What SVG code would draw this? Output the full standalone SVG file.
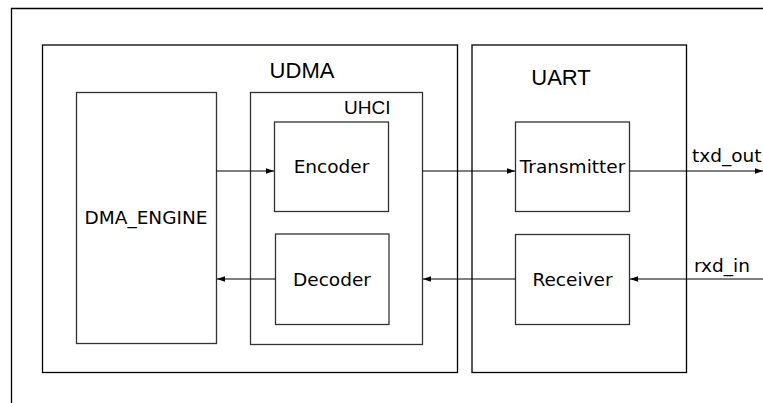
<svg xmlns="http://www.w3.org/2000/svg" width="763" height="403" viewBox="0 0 763 403">
<style>
.box{fill:none;stroke:#333;stroke-width:1.3}
.frame{fill:none;stroke:#000;stroke-width:1.3}
.lbl{font-family:"DejaVu Sans",sans-serif;font-size:18.5px;fill:#000}
.ttl{font-family:"Liberation Sans",Arial,sans-serif;font-size:22px;fill:#000}
.con{stroke:#000;stroke-width:1.1;fill:none}
</style>
<defs>
<marker id="ah" viewBox="0 0 10 10" refX="10" refY="5" markerWidth="8" markerHeight="8" markerUnits="userSpaceOnUse" orient="auto">
<path d="M0,1.5 L10,5 L0,8.5 Z" fill="#000"/>
</marker>
</defs>
<rect width="763" height="403" fill="#fff"/>
<g id="frame"><path class="frame" d="M11.5,403 V8.5 H763"/></g>
<g id="udma">
<rect class="frame" x="42.5" y="45" width="415" height="327.5"/>
<text class="ttl" x="302" y="78" text-anchor="middle">UDMA</text>
</g>
<g id="uart">
<rect class="frame" x="472" y="45" width="214.5" height="327.5"/>
<text class="ttl" x="561" y="85" text-anchor="middle">UART</text>
</g>
<g id="dma_engine">
<rect class="box" x="76.5" y="92.5" width="140" height="251"/>
<text class="lbl" x="146" y="224" text-anchor="middle">DMA_ENGINE</text>
</g>
<g id="uhci">
<rect class="box" x="250.5" y="92.5" width="172" height="252"/>
<text x="344" y="113.5" font-family="Liberation Sans,Arial,sans-serif" font-size="19">UHCI</text>
</g>
<g id="encoder">
<rect class="box" x="274.5" y="122" width="114" height="89.5"/>
<text class="lbl" x="331.5" y="173" text-anchor="middle">Encoder</text>
</g>
<g id="decoder">
<rect class="box" x="275.5" y="234" width="113.5" height="90.5"/>
<text class="lbl" x="332" y="286" text-anchor="middle">Decoder</text>
</g>
<g id="transmitter">
<rect class="box" x="515.5" y="122" width="114" height="89.5"/>
<text class="lbl" x="572.5" y="173" text-anchor="middle">Transmitter</text>
</g>
<g id="receiver">
<rect class="box" x="515.5" y="234.5" width="114" height="90"/>
<text class="lbl" x="572.5" y="286" text-anchor="middle">Receiver</text>
</g>
<g id="connectors">
<line class="con" x1="216.5" y1="171" x2="274" y2="171" marker-end="url(#ah)"/>
<line class="con" x1="422.5" y1="171" x2="515" y2="171" marker-end="url(#ah)"/>
<line class="con" x1="629.5" y1="171" x2="763" y2="171" marker-end="url(#ah)"/>
<line class="con" x1="763" y1="279" x2="630" y2="279" marker-end="url(#ah)"/>
<line class="con" x1="515.5" y1="279" x2="423" y2="279" marker-end="url(#ah)"/>
<line class="con" x1="275.5" y1="279" x2="217" y2="279" marker-end="url(#ah)"/>
<text class="lbl" x="692" y="162">txd_out</text>
<text class="lbl" x="694" y="272">rxd_in</text>
</g>
</svg>
